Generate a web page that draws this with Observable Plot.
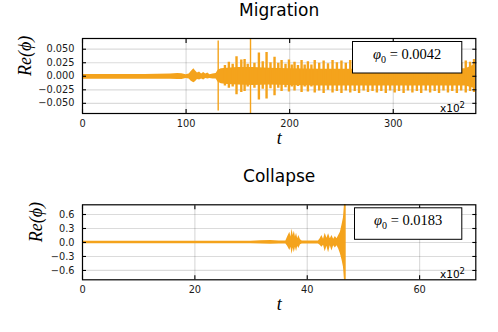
<!DOCTYPE html>
<html><head><meta charset="utf-8">
<script src="https://cdn.jsdelivr.net/npm/d3@7"></script>
<script src="https://cdn.jsdelivr.net/npm/@observablehq/plot@0.6"></script>
<style>
html,body{margin:0;padding:0;background:#fff;}
#chart{width:498px;height:332px;}
svg{display:block;}
</style></head><body><div id="chart"></div>
<script>
// ---------- Migration (phi0 = 0.0042): envelope of Re(phi), t in units of 10^2 ----------
const migXTicks = [0, 100, 200, 300];
const migYTicks = [-0.05, -0.025, 0, 0.025, 0.05];
const migBandT  = [0, 30, 60, 85, 92, 96, 100, 103, 105, 107.5, 109, 111, 113, 115, 117, 119, 121, 123, 126, 129, 131, 134, 140, 150, 165, 180, 200, 230, 260, 300, 340, 370, 376, 380];
const migBandHi = [0.0035, 0.0035, 0.0035, 0.004, 0.005, 0.0045, 0.003, 0.004, 0.009, 0.0137, 0.010, 0.006, 0.008, 0.004, 0.007, 0.004, 0.006, 0.003, 0.004, 0.005, 0.011, 0.014, 0.015, 0.016, 0.016, 0.015, 0.014, 0.013, 0.013, 0.013, 0.013, 0.014, 0.019, 0.025];
const migBandLo = [-0.0055, -0.0055, -0.0055, -0.0055, -0.006, -0.006, -0.004, -0.005, -0.009, -0.012, -0.010, -0.006, -0.007, -0.005, -0.007, -0.004, -0.005, -0.004, -0.005, -0.005, -0.011, -0.014, -0.015, -0.016, -0.017, -0.016, -0.017, -0.018, -0.018, -0.018, -0.018, -0.018, -0.021, -0.023];
const migSpikeT  = [137.5, 141.3, 145, 148.7, 153.3, 156.5, 159.5, 166, 170.3, 174, 177.7, 181.5, 185.4, 189, 192.2, 196, 199.3, 202, 204.7, 208, 211.5, 214.5, 217.6, 221, 224.2, 228.5, 232.8, 237, 241.4, 245.6, 250, 254.2, 258.5, 262.8, 267, 271.4, 275.6, 280, 284.2, 288.5, 292.8, 297, 301.4, 305.6, 310, 314.2, 318.5, 322.8, 327, 331.4, 335.6, 340, 344.2, 348.5, 352.8, 357, 361.4, 365.6, 370, 374.2, 378];
const migSpikeHi = [0.020, 0.026, 0.022, 0.036, 0.030, 0.031, 0.022, 0.024, 0.043, 0.027, 0.044, 0.025, 0.035, 0.024, 0.029, 0.022, 0.030, 0.021, 0.026, 0.020, 0.029, 0.021, 0.027, 0.021, 0.029, 0.024, 0.028, 0.023, 0.029, 0.025, 0.028, 0.024, 0.029, 0.025, 0.028, 0.024, 0.029, 0.025, 0.028, 0.024, 0.029, 0.025, 0.028, 0.024, 0.029, 0.025, 0.028, 0.024, 0.029, 0.025, 0.028, 0.024, 0.029, 0.025, 0.028, 0.024, 0.029, 0.025, 0.028, 0.026, 0.031];
const migSpikeLo = [-0.018, -0.022, -0.020, -0.034, -0.030, -0.028, -0.020, -0.022, -0.044, -0.024, -0.042, -0.023, -0.036, -0.022, -0.028, -0.021, -0.029, -0.020, -0.027, -0.019, -0.030, -0.020, -0.029, -0.020, -0.031, -0.027, -0.032, -0.026, -0.031, -0.028, -0.032, -0.027, -0.031, -0.028, -0.032, -0.027, -0.030, -0.028, -0.031, -0.028, -0.032, -0.027, -0.031, -0.028, -0.032, -0.027, -0.031, -0.028, -0.032, -0.027, -0.031, -0.028, -0.032, -0.027, -0.031, -0.028, -0.032, -0.027, -0.031, -0.028, -0.030];
const migBigT  = [131.0, 162.2];
const migBigHi = [0.065, 0.075];
const migBigLo = [-0.064, -0.075];

// ---------- Collapse (phi0 = 0.0183) ----------
const colXTicks = [0, 20, 40, 60];
const colYTicks = [-0.6, -0.3, 0, 0.3, 0.6];
const colBandT  = [0, 30, 31.7, 33.5, 35, 36.2, 36.5, 36.9, 37.1, 37.3, 37.5, 37.7, 37.9, 38.1, 38.3, 38.5, 38.8, 39.1, 42.0, 42.3, 42.6, 42.9, 43.2, 43.5, 43.8, 44.1, 44.4, 44.7, 45.0, 45.3, 45.6, 45.9, 46.2, 46.45, 46.65, 46.8];
const colBandHi = [0.025, 0.025, 0.035, 0.04, 0.03, 0.03, 0.12, 0.22, 0.12, 0.29, 0.15, 0.24, 0.12, 0.20, 0.08, 0.15, 0.06, 0.03, 0.03, 0.08, 0.15, 0.07, 0.20, 0.09, 0.19, 0.08, 0.15, 0.07, 0.13, 0.08, 0.15, 0.22, 0.38, 0.53, 0.85, 0.85];
const colBandLo = [-0.025, -0.025, -0.035, -0.04, -0.03, -0.03, -0.08, -0.17, -0.10, -0.26, -0.12, -0.22, -0.10, -0.20, -0.08, -0.13, -0.05, -0.03, -0.03, -0.06, -0.10, -0.06, -0.20, -0.08, -0.22, -0.07, -0.18, -0.07, -0.12, -0.07, -0.14, -0.24, -0.38, -0.53, -0.85, -0.85];
const colBigT  = [46.72];
const colBigHi = [0.85];
const colBigLo = [-0.85];

const ORANGE = "#f4a31c";

function zip3(t, hi, lo) { return t.map((v, i) => ({t: v, hi: hi[i], lo: lo[i]})); }

function panel(cfg) {
  const band = zip3(cfg.bandT, cfg.bandHi, cfg.bandLo);
  const spikes = zip3(cfg.spikeT, cfg.spikeHi, cfg.spikeLo);
  const big = zip3(cfg.bigT, cfg.bigHi, cfg.bigLo);
  const tickStyle = {stroke: "#000", strokeWidth: 1.1, label: null, tickFormat: () => ""};
  const svg = Plot.plot({
    width: 498, height: 166,
    marginLeft: 82, marginRight: 22.7, marginTop: cfg.mt, marginBottom: 166 - cfg.mt - 75,
    style: {fontFamily: "DejaVu Sans", fontSize: "9.8px", background: "white", color: "#1a1a1a", overflow: "visible"},
    x: {domain: cfg.xDomain},
    y: {domain: cfg.yDomain},
    marks: [
      Plot.gridY(cfg.yTicks, {stroke: "#000", strokeOpacity: 0.14, strokeWidth: 1.2}),
      Plot.gridX(cfg.xTicks, {stroke: "#000", strokeOpacity: 0.14, strokeWidth: 1.2}),
      Plot.areaY(band, {x: "t", y1: "lo", y2: "hi", fill: ORANGE, clip: true}),
      Plot.ruleX(spikes, {x: "t", y1: "lo", y2: "hi", stroke: ORANGE, strokeWidth: 2.4, clip: true}),
      Plot.ruleX(big, {x: "t", y1: "lo", y2: "hi", stroke: ORANGE, strokeWidth: 1.4, clip: true}),
      Plot.frame({stroke: "#000", strokeWidth: 1.2}),
      Plot.axisX(cfg.xTicks, {anchor: "bottom", tickSize: -4, ...tickStyle}),
      Plot.axisX(cfg.xTicks, {anchor: "top", tickSize: -4, ...tickStyle}),
      Plot.axisY(cfg.yTicks, {anchor: "left", tickSize: -4, ...tickStyle}),
      Plot.axisY(cfg.yTicks, {anchor: "right", tickSize: -4, ...tickStyle}),
      Plot.axisX(cfg.xTicks, {anchor: "bottom", tickSize: 0, tickPadding: 6.5, label: null, tickFormat: d => String(d)}),
      Plot.axisY(cfg.yTicks, {anchor: "left", tickSize: 0, tickPadding: 8, label: null, tickFormat: cfg.yFormat}),
      Plot.text([cfg.title], {text: d => d, frameAnchor: "top", dy: 15 - cfg.mt, lineAnchor: "bottom", fontSize: 17, fill: "#000"}),
      Plot.text(["t"], {text: d => d, frameAnchor: "bottom", dy: 30.5, lineAnchor: "bottom", fontFamily: "Liberation Serif", fontStyle: "italic", fontSize: 18, fill: "#000"}),
      Plot.text(["Re(\u03D5)"], {text: d => d, frameAnchor: "left", rotate: -90, dx: cfg.ylabX - 82, lineAnchor: "bottom", fontFamily: "Liberation Serif", fontStyle: "italic", fontSize: 18, fill: "#000"})
    ]
  });
  const g = d3.select(svg).append("g");
  // exponent note at bottom-right inside the frame
  const ex = g.append("text").attr("x", 465).attr("y", cfg.mt + 73.6).attr("text-anchor", "end")
    .attr("font-family", "DejaVu Sans").attr("font-size", 10.5).attr("fill", "#000");
  ex.append("tspan").text("x10");
  ex.append("tspan").attr("dy", -4).attr("font-size", 8.5).text("2");
  // legend box
  g.append("rect").attr("x", cfg.boxX).attr("y", cfg.mt + 3.5).attr("width", 461.8 - cfg.boxX).attr("height", 31.5)
    .attr("fill", "white").attr("stroke", "#000").attr("stroke-width", 1);
  const tx = g.append("text").attr("x", (cfg.boxX + 461.8) / 2).attr("y", cfg.mt + 20.5)
    .attr("text-anchor", "middle").attr("font-family", "Liberation Serif").attr("font-size", 14.5).attr("fill", "#000");
  tx.append("tspan").attr("font-style", "italic").text("\u03C6");
  tx.append("tspan").attr("font-size", 10).attr("dy", 4).text("0");
  tx.append("tspan").attr("dy", -4).text(" = " + cfg.legend);
  return svg;
}

const root = document.getElementById("chart");
root.appendChild(panel({
  title: "Migration", legend: "0.0042", mt: 38, boxX: 352.5, ylabX: 30,
  xDomain: [0, 379.7], yDomain: [-0.0688, 0.0698], xTicks: migXTicks, yTicks: migYTicks, yFormat: d3.format(".3f"),
  bandT: migBandT, bandHi: migBandHi, bandLo: migBandLo,
  spikeT: migSpikeT, spikeHi: migSpikeHi, spikeLo: migSpikeLo,
  bigT: migBigT, bigHi: migBigHi, bigLo: migBigLo
}));
root.appendChild(panel({
  title: "Collapse", legend: "0.0183", mt: 38.3, boxX: 354.5, ylabX: 41.5,
  xDomain: [0, 70], yDomain: [-0.8, 0.808], xTicks: colXTicks, yTicks: colYTicks, yFormat: d3.format(".1f"),
  bandT: colBandT, bandHi: colBandHi, bandLo: colBandLo,
  spikeT: [], spikeHi: [], spikeLo: [],
  bigT: colBigT, bigHi: colBigHi, bigLo: colBigLo
}));
</script></body></html>
